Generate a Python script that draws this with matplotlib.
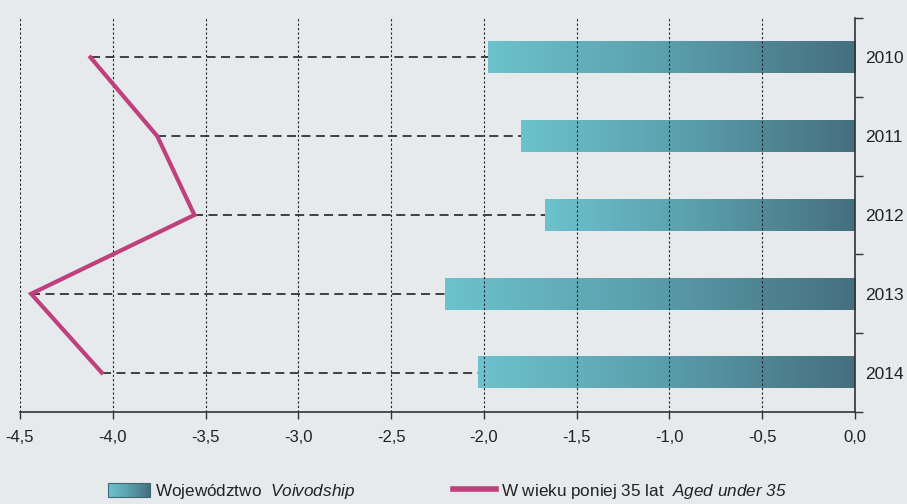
import numpy as np
import matplotlib
matplotlib.use("Agg")
import matplotlib.pyplot as plt
from matplotlib.colors import LinearSegmentedColormap
from matplotlib.legend_handler import HandlerBase
from matplotlib.patches import Rectangle, Patch
from matplotlib.lines import Line2D

# Dane
years = ["2010", "2011", "2012", "2013", "2014"]
voivodship = [-1.98, -1.80, -1.67, -2.21, -2.03]
under35 = [-4.12, -3.76, -3.56, -4.44, -4.06]
xticks = [-4.5, -4.0, -3.5, -3.0, -2.5, -2.0, -1.5, -1.0, -0.5, 0.0]
xtick_labels = ["-4,5", "-4,0", "-3,5", "-3,0", "-2,5", "-2,0", "-1,5", "-1,0", "-0,5", "0,0"]

plt.rcParams["font.family"] = ["Liberation Sans", "DejaVu Sans"]
plt.rcParams["mathtext.fontset"] = "custom"
plt.rcParams["mathtext.it"] = "Liberation Sans:italic"
plt.rcParams["mathtext.rm"] = "Liberation Sans:italic"

bg = "#e6eaec"
bar_cmap = LinearSegmentedColormap.from_list("teal", ["#6cc2cd", "#5a9eab", "#466f7e"])
line_color = "#c03f7d"

fig = plt.figure(figsize=(9.07, 5.04), dpi=100, facecolor=bg)
ax = fig.add_axes([20 / 907, 1 - 412 / 504, 835 / 907, 394 / 504])
ax.set_facecolor(bg)

y = np.arange(len(years))

# Słupki z gradientem
bars = ax.barh(y, voivodship, height=0.4, facecolor="none", edgecolor="none", zorder=1)
grad = np.linspace(0, 1, 256).reshape(1, -1)
for b in bars:
    x0, y0, w, h = b.get_x(), b.get_y(), b.get_width(), b.get_height()
    ax.imshow(grad, extent=[min(x0, x0 + w), max(x0, x0 + w), y0 + h, y0],
              cmap=bar_cmap, aspect="auto", zorder=1, interpolation="bilinear")

# Linie przerywane
ax.hlines(y, under35, voivodship, colors="#333333", linestyles=(0, (5, 3)), lw=1.3, zorder=3)
ax.plot(under35, y, color=line_color, lw=3, zorder=4, solid_joinstyle="miter")

ax.set_xlim(-4.5, 0)
ax.set_ylim(4.5, -0.5)
ax.set_xticks(xticks)
ax.set_xticklabels(xtick_labels)
ax.tick_params(axis="x", direction="out", length=5, width=1, pad=8, color="#333333",
               labelsize=12, labelcolor="#222222")

ax.yaxis.tick_right()
ax.set_yticks(y)
ax.set_yticklabels(years)
ax.set_yticks(np.arange(-0.5, 5, 1), minor=True)
ax.tick_params(axis="y", which="major", length=0, pad=7, labelsize=12.5, labelcolor="#222222")
ax.tick_params(axis="y", which="minor", length=6, width=1, direction="out", color="#333333")

for s in ["left", "top"]:
    ax.spines[s].set_visible(False)
ax.spines["right"].set_position(("data", 0))
for s in ["right", "bottom"]:
    ax.spines[s].set_color("#333333")
    ax.spines[s].set_linewidth(1.2)

ax.set_axisbelow(False)
ax.grid(axis="x", color="#222222", linestyle=(0, (2, 2)), lw=0.8, zorder=2)
ax.grid(axis="y", visible=False)


class GradientHandler(HandlerBase):
    def create_artists(self, legend, orig_handle, xdescent, ydescent, width, height, fontsize, trans):
        n = 30
        arts = []
        for i in range(n):
            arts.append(Rectangle((-xdescent + width * i / n, -ydescent), width / n + 0.3, height,
                                  facecolor=bar_cmap(i / (n - 1)), edgecolor="none", transform=trans))
        arts.append(Rectangle((-xdescent, -ydescent), width, height, facecolor="none",
                              edgecolor="#3f6a78", lw=0.8, transform=trans))
        return arts


h_bar = Patch()
h_line = Line2D([], [], color=line_color, lw=4)
fig.legend([h_bar, h_line],
           ["Województwo  $Voivodship$", "W wieku poniej 35 lat  $Aged\\ under\\ 35$"],
           handler_map={Patch: GradientHandler()},
           loc="center", bbox_to_anchor=(0.493, 0.025), ncol=2, frameon=False,
           fontsize=12.3, handlelength=2.5, handleheight=0.9, handletextpad=0.3,
           columnspacing=5.7, labelcolor="#222222")

fig.savefig("out.png", dpi=100, facecolor=bg)
